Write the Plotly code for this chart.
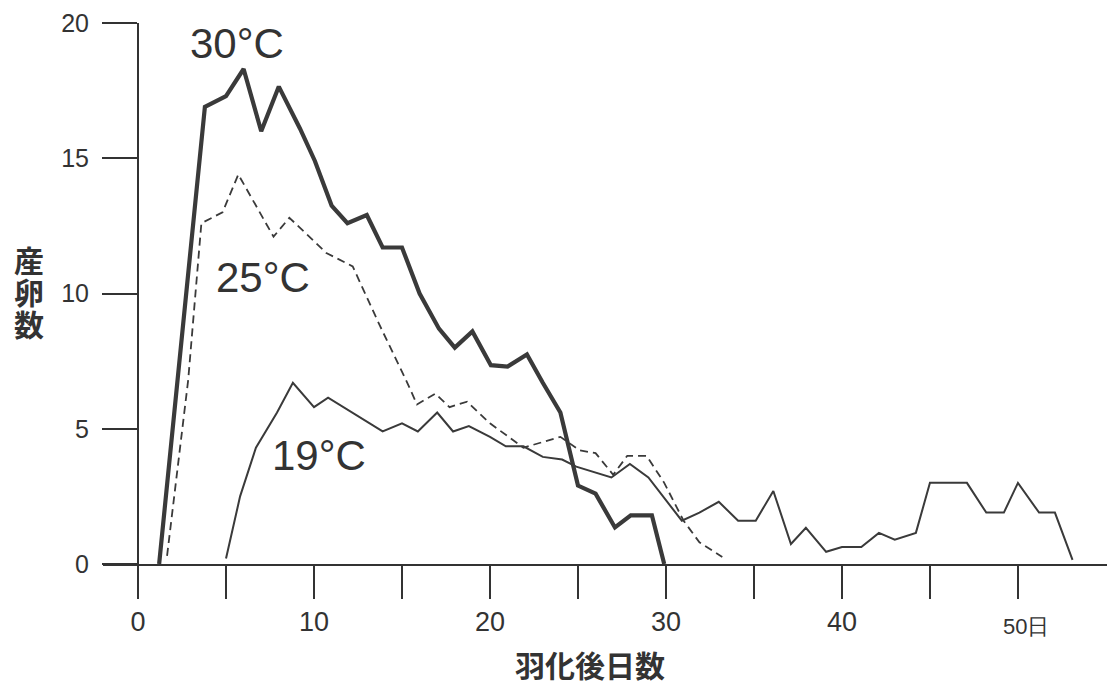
import plotly.graph_objects as go

# ---- data ----
days_30 = [1.2, 3.8, 5.0, 6.0, 7.0, 8.0, 9.2, 10.05, 11.0, 11.9, 13.0, 13.9, 15.0, 16.0,
           17.1, 18.0, 19.0, 20.05, 21.0, 22.1, 23.0, 24.0, 25.0, 26.0, 27.1, 28.0, 29.2, 29.9]
eggs_30 = [0, 16.9, 17.3, 18.3, 16.0, 17.65, 16.1, 14.9, 13.25, 12.6, 12.9, 11.7, 11.7, 10.0,
           8.7, 8.0, 8.6, 7.35, 7.3, 7.75, 6.7, 5.6, 2.9, 2.6, 1.35, 1.8, 1.8, 0]

days_25 = [1.65, 2.4, 2.85, 3.6, 4.8, 5.7, 7.7, 8.6, 10.7, 12.2, 12.9, 13.75, 15.3, 15.85,
           16.9, 17.7, 18.7, 20.0, 21.9, 24.0, 25.1, 26.0, 27.0, 27.8, 28.9, 29.9, 31.0, 31.9, 33.2]
eggs_25 = [0.3, 4.5, 6.8, 12.6, 13.0, 14.4, 12.1, 12.8, 11.5, 11.0, 10.0, 8.8, 6.7, 5.9,
           6.3, 5.8, 6.0, 5.2, 4.3, 4.7, 4.2, 4.1, 3.3, 4.0, 4.0, 3.0, 1.6, 0.8, 0.26]

days_19 = [5.0, 5.8, 6.7, 7.9, 8.8, 10.0, 10.8, 13.9, 15.0, 15.9, 17.0, 17.9, 18.8, 20.0,
           20.9, 21.9, 23.0, 24.1, 24.9, 26.9, 27.95, 29.0, 30.9, 31.9, 33.0, 34.1, 35.1,
           36.1, 37.1, 37.95, 39.1, 40.0, 41.1, 42.1, 43.0, 44.2, 45.0, 47.1, 48.2, 49.2,
           50.0, 51.2, 52.1, 53.1]
eggs_19 = [0.2, 2.5, 4.3, 5.6, 6.7, 5.8, 6.15, 4.9, 5.2, 4.9, 5.6, 4.9, 5.1, 4.7,
           4.35, 4.35, 3.96, 3.86, 3.6, 3.2, 3.7, 3.2, 1.6, 1.9, 2.3, 1.6, 1.6,
           2.7, 0.74, 1.34, 0.45, 0.63, 0.63, 1.15, 0.9, 1.15, 3.0, 3.0, 1.9, 1.9,
           3.0, 1.9, 1.9, 0.15]

series_labels = ["30°C", "25°C", "19°C"]
label_pos = [(5.6, 19.25), (7.1, 10.6), (10.3, 4.0)]   # (day, eggs) anchor of each label

x_tick_vals = [0, 5, 10, 15, 20, 25, 30, 35, 40, 45, 50]
x_tick_text = ["0", "", "10", "", "20", "", "30", "", "40", "", ""]
x_last_label = "50日"
y_tick_vals = [0, 5, 10, 15, 20]
y_tick_text = ["0", "5", "10", "15", "20"]
x_title = "羽化後日数"
y_title_chars = ["産", "卵", "数"]

INK = "#333333"
JP = "Noto Sans CJK JP"
LAT = "Liberation Sans, Arial, sans-serif"

W, H = 1107, 689
L, T, B = 103, 23, 125
PW, PH = W - L, H - T - B

fig = go.Figure()
fig.add_trace(go.Scatter(x=days_30, y=eggs_30, mode="lines",
                         line=dict(color="#3a3a3a", width=4.2), showlegend=False))
fig.add_trace(go.Scatter(x=days_25, y=eggs_25, mode="lines",
                         line=dict(color="#3a3a3a", width=1.8, dash="8px,5px"), showlegend=False))
fig.add_trace(go.Scatter(x=days_19, y=eggs_19, mode="lines",
                         line=dict(color="#3a3a3a", width=2.0), showlegend=False))

annotations = []
for txt, (ax, ay) in zip(series_labels, label_pos):
    annotations.append(dict(x=ax, y=ay, xref="x", yref="y", text=txt, showarrow=False,
                            font=dict(family=LAT, size=42, color=INK),
                            xanchor="center", yanchor="middle"))
annotations.append(dict(x=50.45, y=0, xref="x", yref="y", text=x_last_label,
                        showarrow=False, yshift=-62,
                        font=dict(family=LAT, size=22, color=INK),
                        xanchor="center", yanchor="middle"))
annotations.append(dict(x=(590 - L) / PW, y=(564 - 664) / PH, xref="paper", yref="paper",
                        yanchor="middle", text=x_title, showarrow=False, xanchor="center",
                        font=dict(family=JP, size=30, color=INK, weight="bold")))
for i, ch in enumerate(y_title_chars):
    annotations.append(dict(x=(29 - L) / PW, y=1 - ((259 + 32 * i) - T) / PH,
                            xref="paper", yref="paper", text=ch, showarrow=False,
                            xanchor="center", yanchor="middle",
                            font=dict(family=JP, size=30, color=INK, weight="bold")))

fig.update_layout(
    width=W, height=H,
    margin=dict(l=L, r=0, t=T, b=B, autoexpand=False),
    paper_bgcolor="white", plot_bgcolor="white",
    annotations=annotations,
    xaxis=dict(range=[-1.99, 55.06], showgrid=False, zeroline=False,
               showline=True, linecolor=INK, linewidth=2,
               tickmode="array", tickvals=x_tick_vals, ticktext=x_tick_text,
               ticks="outside", ticklen=33, tickwidth=2, tickcolor=INK,
               ticklabelstandoff=0, automargin=False,
               tickfont=dict(family=LAT, size=27, color=INK)),
    yaxis=dict(range=[0, 20], showgrid=False, zeroline=False,
               showline=True, linecolor=INK, linewidth=2,
               anchor="free", position=35 / PW, automargin=False,
               tickmode="array", tickvals=y_tick_vals, ticktext=y_tick_text,
               ticks="outside", ticklen=35, tickwidth=2, tickcolor=INK,
               ticklabelstandoff=8,
               tickfont=dict(family=LAT, size=25, color=INK)),
)

fig.write_html("out.html", config={"displayModeBar": False},
               post_script="document.body.style.margin='0';")
